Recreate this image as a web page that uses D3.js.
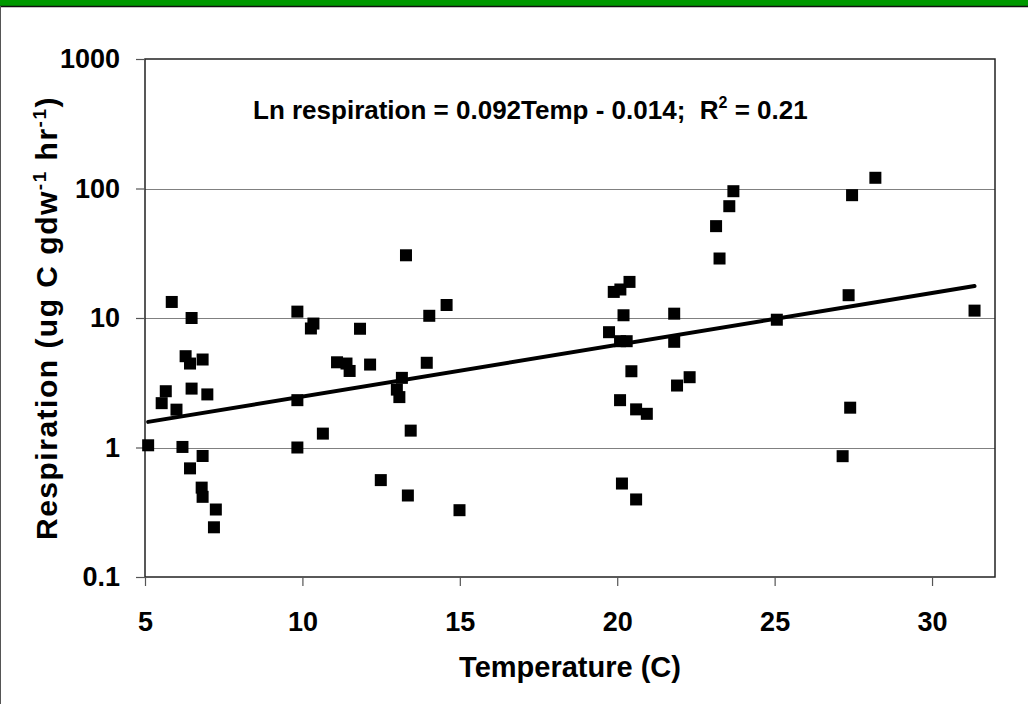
<!DOCTYPE html>
<html lang='en'>
<head>
	<meta charset='UTF-8'/>
	<title>Respiration vs Temperature</title>
	<script src='https://cdnjs.cloudflare.com/ajax/libs/d3/7.8.5/d3.min.js'></script>
	<style>
		body {margin: 0; background: #fff;}
		svg {display: block; font-family: Arial, 'Liberation Sans', sans-serif; font-weight: bold;}
		text {white-space: pre;}
	</style>
</head>
<body>
	<div class='graph'></div>
	<script>
		// data
		const temps = [5.1, 5.53, 5.66, 5.85, 6.0, 6.19, 6.29, 6.43, 6.43, 6.48, 6.48, 6.83, 6.83, 6.8, 6.83, 6.98, 7.25, 7.19,
			9.84, 9.84, 9.84, 10.27, 10.35, 10.65, 11.1, 11.4, 11.5, 11.83, 12.15, 12.49, 13.0, 13.08, 13.16, 13.29, 13.35, 13.44,
			13.95, 14.03, 14.58, 14.99, 19.74, 19.89, 20.1, 20.09, 20.09, 20.15, 20.2, 20.3, 20.39, 20.45, 20.6, 20.6, 20.94,
			21.81, 21.81, 21.9, 22.3, 23.14, 23.25, 23.56, 23.69, 25.07, 27.16, 27.35, 27.4, 27.46, 28.2, 31.35];
		const resp = [1.04, 2.2, 2.72, 13.3, 1.96, 1.01, 5.07, 4.45, 0.69, 10.0, 2.85, 4.78, 0.86, 0.49, 0.416, 2.57, 0.332, 0.242,
			11.2, 2.32, 1.0, 8.3, 9.06, 1.28, 4.55, 4.45, 3.9, 8.26, 4.37, 0.56, 2.8, 2.45, 3.45, 30.5, 0.426, 1.35,
			4.51, 10.4, 12.6, 0.328, 7.77, 15.9, 16.6, 6.62, 2.32, 0.527, 10.5, 6.62, 19.0, 3.88, 1.97, 0.397, 1.82,
			10.8, 6.55, 3.01, 3.49, 51.2, 28.8, 73, 95.3, 9.7, 0.857, 15.0, 2.03, 88.8, 121, 11.4];
		const xTicks = [5, 10, 15, 20, 25, 30];
		const yTicks = [0.1, 1, 10, 100, 1000];
		// Ln respiration = slope * Temp + intercept
		const slope = 0.092, intercept = -0.014;

		const width = 1028, height = 704;
		const margin = {top: 59, right: 33, bottom: 127, left: 145};

		const svg = d3.select('.graph').append('svg')
			.attr('width', width)
			.attr('height', height);

		// frame: green band on top, thin border on the left
		svg.append('rect').attr('x', 0).attr('y', 0).attr('width', width).attr('height', 6).attr('fill', '#009900');
		svg.append('line').attr('x1', 0).attr('x2', width).attr('y1', 6.5).attr('y2', 6.5).attr('stroke', '#111').attr('stroke-width', 1.5);
		svg.append('line').attr('x1', 0.5).attr('x2', 0.5).attr('y1', 6).attr('y2', height).attr('stroke', '#555');

		const x = d3.scaleLinear().domain([5, 32]).range([margin.left, width - margin.right]);
		const y = d3.scaleLog().domain([0.1, 1000]).range([height - margin.bottom, margin.top]);

		// gridlines
		svg.append('g').selectAll('line')
			.data(yTicks.slice(1, -1))
			.join('line')
			.attr('x1', x(5)).attr('x2', x(32))
			.attr('y1', d => Math.round(y(d)) + 0.5).attr('y2', d => Math.round(y(d)) + 0.5)
			.attr('stroke', '#808080').attr('stroke-width', 1);

		// plot border
		svg.append('rect')
			.attr('x', x(5)).attr('y', y(1000))
			.attr('width', x(32) - x(5)).attr('height', y(0.1) - y(1000))
			.attr('fill', 'none').attr('stroke', '#222').attr('stroke-width', 1.5);

		// axes
		const xAxis = svg.append('g')
			.attr('transform', 'translate(0,' + y(0.1) + ')')
			.call(d3.axisBottom(x).tickValues(xTicks).tickSize(9).tickPadding(26).tickFormat(d3.format('d')));
		const yAxis = svg.append('g')
			.attr('transform', 'translate(' + x(5) + ',0)')
			.call(d3.axisLeft(y).tickValues(yTicks).tickSize(9).tickPadding(16).tickFormat(d => d < 1 ? '0.1' : d3.format('d')(d)));
		[xAxis, yAxis].forEach(a => {
			a.select('.domain').remove();
			a.selectAll('.tick line').attr('stroke', '#555').attr('stroke-width', 1.2);
			a.selectAll('.tick text')
				.attr('fill', '#000')
				.style('font-family', 'Arial, "Liberation Sans", sans-serif')
				.style('font-weight', 'bold')
				.style('font-size', '27px');
		});

		// regression line
		const tMin = d3.min(temps), tMax = d3.max(temps);
		svg.append('line')
			.attr('x1', x(tMin)).attr('y1', y(Math.exp(slope * tMin + intercept)))
			.attr('x2', x(tMax)).attr('y2', y(Math.exp(slope * tMax + intercept)))
			.attr('stroke', '#000').attr('stroke-width', 4).attr('stroke-linecap', 'round');

		// points
		const s = 12;
		svg.append('g').selectAll('rect')
			.data(temps)
			.join('rect')
			.attr('x', (d, i) => x(d) - s / 2)
			.attr('y', (d, i) => y(resp[i]) - s / 2)
			.attr('width', s).attr('height', s)
			.attr('fill', '#000');

		// equation
		const eq = svg.append('text')
			.attr('x', 253).attr('y', 119)
			.style('font-size', '26px');
		eq.append('tspan').text('Ln respiration = 0.092Temp - 0.014;  R');
		eq.append('tspan').attr('dy', -11).style('font-size', '16px').text('2');
		eq.append('tspan').attr('dy', 11).text(' = 0.21');

		// axis titles
		svg.append('text')
			.attr('x', 570).attr('y', 677)
			.attr('text-anchor', 'middle')
			.style('font-size', '29px')
			.text('Temperature (C)');

		const yl = svg.append('text')
			.attr('transform', 'translate(57,' + 318 + ') rotate(-90)')
			.attr('text-anchor', 'middle')
			.style('font-size', '30px')
			.style('letter-spacing', '1.5px');
		yl.append('tspan').text('Respiration (ug C gdw');
		yl.append('tspan').attr('dy', -11).style('font-size', '19px').text('-1');
		yl.append('tspan').attr('dy', 11).text(' hr');
		yl.append('tspan').attr('dy', -11).style('font-size', '19px').text('-1');
		yl.append('tspan').attr('dy', 11).text(')');
	</script>
</body>
</html>
